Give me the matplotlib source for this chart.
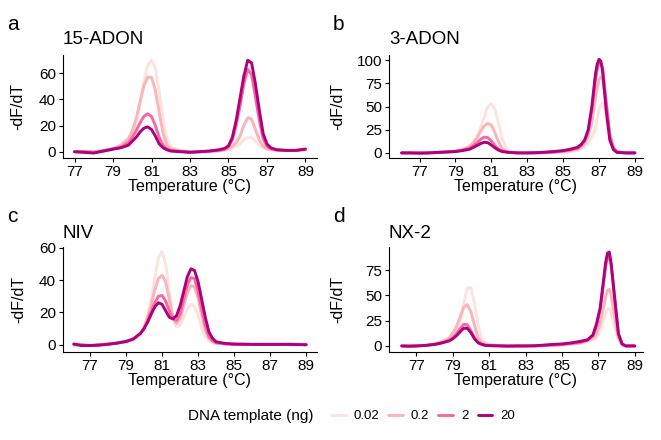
import matplotlib
matplotlib.use('Agg')
import matplotlib.pyplot as plt

plt.rcParams['font.family'] = ['Liberation Sans', 'DejaVu Sans']

# DNA template amounts and colours (RdPu)
doses = ['0.02', '0.2', '2', '20']
colors = ['#fde3dc', '#fbb4b9', '#f768a1', '#ae017e']

# panel a: 15-ADON
a_temp = [77, 77.5, 78, 78.5, 79, 79.4, 79.8, 80.0, 80.2, 80.4, 80.6, 80.8, 81.0, 81.2, 81.4, 81.6, 81.8, 82.0,
          82.5, 83, 83.5, 84, 84.5, 84.8, 85.0, 85.2, 85.4, 85.6, 85.8, 86.0, 86.2, 86.4, 86.6, 86.8, 87.0, 87.2,
          87.5, 88, 88.5, 89]
a_002 = [0, 0.3, 0, 0.8, 2, 4, 8, 13, 22, 36, 53, 66, 70, 64, 46, 25, 10, 4, 1, 0, 0, 0.3, 0.5, 1, 1.5, 2.5, 4, 6,
         9, 11, 11, 8, 5, 3, 2, 1.5, 1, 1, 1, 1.5]
a_02 = [0, 0.3, 0, 1, 2.5, 5, 10, 16, 25, 38, 50, 57, 57, 47, 30, 14, 5, 2, 0.5, 0, 0, 0.3, 0.8, 1.5, 2.5, 4, 7, 12,
        20, 26, 25, 17, 9, 4, 2, 1.5, 1, 1, 1, 1.5]
a_2 = [0, 0, -0.5, 0.5, 2, 3.5, 7, 11, 16, 22, 27, 29, 27, 20, 11, 5, 2, 1, 0.3, -0.3, 0, 0.5, 1, 2, 4, 9, 20, 35,
       52, 63, 59, 42, 24, 10, 4, 2.5, 1.5, 1, 1, 2]
a_20 = [0, -0.5, -1, 0.5, 2, 3, 5, 8, 11, 15, 18, 19, 17, 12, 6, 3, 1.5, 0.5, 0, -0.5, 0, 0.5, 1.5, 2.5, 4.5, 11,
        24, 41, 58, 70, 68, 52, 32, 14, 6, 3, 1.5, 1, 1, 2]

# panel b: 3-ADON
b_temp = [76, 76.5, 77, 77.5, 78, 78.5, 79, 79.4, 79.8, 80.0, 80.2, 80.4, 80.6, 80.8, 81.0, 81.2, 81.4, 81.6, 81.8,
          82.0, 82.5, 83, 83.5, 84, 84.5, 85, 85.4, 85.8, 86.0, 86.2, 86.4, 86.6, 86.8, 86.9, 87.0, 87.1, 87.2,
          87.4, 87.6, 87.8, 88.0, 88.5, 89]
b_002 = [0, 0, 0, 0, 0.5, 1, 2, 4, 8, 12, 18, 27, 39, 50, 53, 47, 32, 16, 6, 2, 0.5, 0, 0, 0, 0.5, 1, 1.5, 2.5, 4,
         6, 10, 17, 26, 37, 47, 52, 54, 38, 14, 4, 1, 0, 0]
b_02 = [0, 0, 0, 0, 0.5, 1, 2, 3.5, 7, 11, 16, 23, 29, 32, 30, 22, 12, 5, 2, 0.5, 0, 0, 0, 0.3, 0.8, 1.5, 2.5, 4, 6,
        10, 18, 33, 58, 70, 79, 82, 80, 55, 22, 6, 1.5, 0, 0]
b_2 = [0, 0, 0, 0, 0.5, 1, 1.5, 3, 5, 8, 11, 14.5, 17, 16.5, 13, 8, 4, 2, 1, 0.5, 0, 0, 0, 0.5, 1, 2, 3, 5, 8, 13,
       24, 46, 78, 90, 98, 97, 92, 55, 18, 5, 1, 0, 0]
b_20 = [0, 0, -0.3, 0, 0.5, 1, 1.5, 2.5, 4, 6, 8, 10, 11.5, 11, 8.5, 5.5, 3, 1.5, 1, 0.5, 0, 0, 0.3, 0.8, 1.5, 2.5,
        4, 6, 9, 14, 25, 50, 85, 96, 101, 99, 88, 46, 14, 3.6, 0.5, 0, 0]

# panel c: NIV
c_temp = [76.1, 76.5, 77, 77.5, 78, 78.5, 79, 79.4, 79.8, 80.0, 80.2, 80.4, 80.6, 80.8, 81.0, 81.2, 81.4, 81.6,
          81.8, 82.0, 82.2, 82.4, 82.6, 82.8, 83.0, 83.2, 83.4, 83.6, 83.8, 84.0, 84.5, 85, 85.5, 86, 86.5, 87,
          87.5, 88, 88.5, 89]
c_002 = [0, 0, -0.5, 0, 0.3, 1, 2, 3.5, 7, 11, 18, 28, 42, 54, 57.5, 50, 33, 17, 11, 12, 17, 22, 25, 24, 18, 10, 5,
         2.5, 1.2, 0.8, 0.5, 0.3, 0.3, 0.2, 0.2, 0.2, 0.3, 1, 0.2, 0]
c_02 = [0, 0, -0.5, 0, 0.3, 1, 2, 3.5, 7, 11, 17, 25, 34, 41, 43, 39, 28, 17, 13, 16, 24, 32, 36.5, 36, 29, 18, 9,
        4, 2, 1, 0.5, 0.3, 0.3, 0.2, 0.2, 0.2, 0.2, 0.3, 0.2, 0]
c_2 = [0, 0, -0.5, 0, 0.3, 1, 2, 3.5, 7, 10, 15, 21, 26, 30, 30.5, 27, 21, 16, 15, 19, 28, 37, 41.5, 41, 33, 22,
       12, 5, 2.5, 1.2, 0.6, 0.3, 0.3, 0.2, 0.2, 0.2, 0.2, 0.2, 0.2, 0]
c_20 = [0.5, -0.5, -0.5, -0.3, 0.3, 1, 2, 3.5, 7, 10, 14, 19, 23.5, 26, 25, 21, 17, 16, 18, 24, 33, 42, 47, 46, 39,
        28, 17, 8, 4, 1.8, 0.8, 0.4, 0.3, 0.2, 0.2, 0.2, 0.2, 0.2, 0.1, 0]

# panel d: NX-2
d_temp = [76.2, 76.6, 77, 77.5, 78, 78.4, 78.8, 79.0, 79.2, 79.4, 79.6, 79.8, 80.0, 80.2, 80.4, 80.6, 80.8, 81.0,
          81.5, 82, 82.5, 83, 83.5, 84, 84.5, 85, 85.5, 86, 86.4, 86.7, 86.9, 87.1, 87.3, 87.4, 87.5, 87.6, 87.7,
          87.9, 88.1, 88.3, 88.5, 89]
d_002 = [0, 0, 0, 0.5, 1.5, 3, 6, 9, 14, 25, 42, 57, 58, 42, 20, 7, 3, 1.5, 0.5, 0, 0, 0, 0, 0.3, 0.5, 1, 1.5, 2.5,
         4, 6, 8, 15, 27, 32, 36, 37, 33, 18, 5, 1, 0, 0]
d_02 = [0, 0, 0, 0.5, 2, 4, 8, 13, 19, 28, 38, 41, 34, 20, 8, 3, 1.5, 1, 0.5, 0, 0, 0, 0, 0.3, 0.5, 1, 2, 3, 5, 8,
        12, 22, 40, 49, 55, 56, 50, 28, 8, 1.5, 0, 0]
d_2 = [0, 0, 0, 0.5, 1.5, 3, 5.5, 8, 12, 17, 21.5, 21, 15, 8, 3.5, 1.5, 0.8, 0.5, 0.3, 0, 0, 0, 0, 0.5, 1, 1.5, 2.5,
       3.5, 6, 10, 20, 36, 64, 79, 88, 89, 80, 45, 12, 2, 0, 0]
d_20 = [0, -0.3, 0, 0.5, 1.5, 3, 5, 7, 10, 14, 17.5, 17.5, 13, 7, 3, 1.5, 0.5, 0.3, 0, -0.2, 0, 0, 0.2, 0.8, 1.5, 2,
        3, 4.5, 6, 11, 22, 38, 68, 83, 92, 93, 82, 47, 12, 2, 0, 0]

panels = [
    # letter, title, temps, series, axes box (px), xlim, ylim, yticks, ylabel x
    ('a', '15-ADON', a_temp, [a_002, a_02, a_2, a_20], [63, 55, 317, 158], (76.4, 89.6), (-4.8, 74),
     [0, 20, 40, 60], -0.15),
    ('b', '3-ADON', b_temp, [b_002, b_02, b_2, b_20], [389, 55, 643, 158], (75.3, 89.45), (-5.5, 105.7),
     [0, 25, 50, 75, 100], -0.173),
    ('c', 'NIV', c_temp, [c_002, c_02, c_2, c_20], [63, 247, 317, 352], (75.5, 89.6), (-4.5, 60.5),
     [0, 20, 40, 60], -0.146),
    ('d', 'NX-2', d_temp, [d_002, d_02, d_2, d_20], [389, 247, 643, 352], (75.5, 89.45), (-6, 98),
     [0, 25, 50, 75], -0.173),
]

W, H = 661, 440
fig = plt.figure(figsize=(W / 100, H / 100), dpi=100)

for letter, title, temps, series, box, xlim, ylim, yticks, ylab_x in panels:
    x0, y0, x1, y1 = box
    ax = fig.add_axes([x0 / W, 1 - y1 / H, (x1 - x0) / W, (y1 - y0) / H])
    for vals, col, lab in zip(series, colors, doses):
        ax.plot(temps, vals, color=col, lw=2.1, label=lab, solid_capstyle='round', solid_joinstyle='round')
    ax.set_xlim(*xlim)
    ax.set_ylim(*ylim)
    ax.set_xticks(range(77, 90, 2))
    ax.set_yticks(yticks)
    for s in ['top', 'right']:
        ax.spines[s].set_visible(False)
    for s in ['left', 'bottom']:
        ax.spines[s].set_linewidth(0.8)
    ax.tick_params(direction='out', length=3, width=0.8, labelsize=11, pad=2)
    ax.set_xlabel('Temperature (°C)', fontsize=11.5, labelpad=0)
    ax.set_ylabel('-dF/dT', fontsize=11.5)
    ax.yaxis.set_label_coords(ylab_x, 0.5)
    pad = 8 if y0 < 100 else 6.7
    ax.set_title(title, loc='left', fontsize=13.5, pad=pad)
    fig.text((x0 - 56) / W, 1 - (y0 - 25) / H, letter, fontsize=15, va='baseline')

handles, labels = ax.get_legend_handles_labels()
fig.text(188 / W, 1 - 416 / H, 'DNA template (ng)', fontsize=11, va='center')
fig.legend(handles, labels, loc='center left', bbox_to_anchor=(331 / W, 1 - 416 / H), ncol=4,
           frameon=False, fontsize=9.5, handlelength=1.1, handletextpad=0.6, columnspacing=0.7,
           borderpad=0, borderaxespad=0)

fig.savefig('out.png', dpi=100)
